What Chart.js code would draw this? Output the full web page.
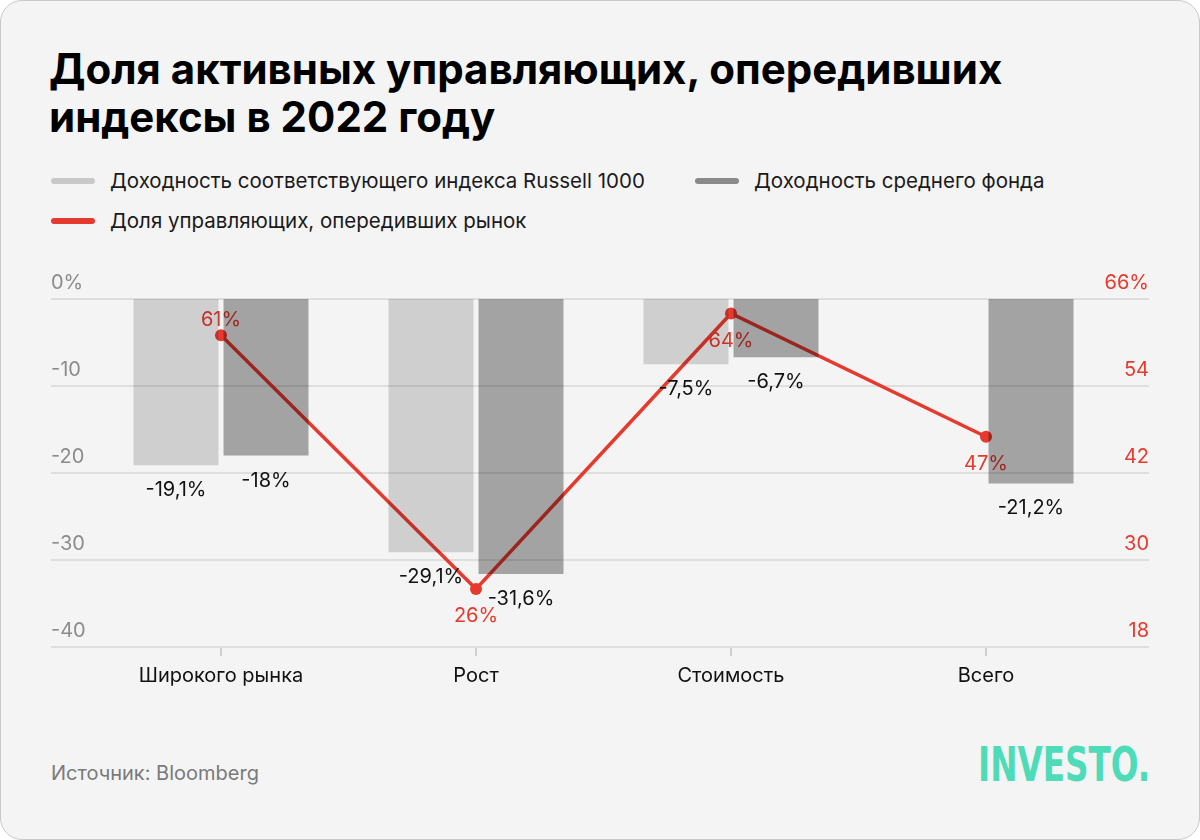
<!DOCTYPE html>
<html>
<head>
<meta charset="utf-8">
<script src="https://cdn.jsdelivr.net/npm/chart.js@4.4.0/dist/chart.umd.min.js"></script>
<style>
  html, body { margin: 0; padding: 0; background: #fff; }
  .card {
    position: absolute; left: 0; top: 0; width: 1200px; height: 840px;
    box-sizing: border-box; background: #f4f4f4; border: 1.5px solid #c9c9c9;
    border-radius: 22px; overflow: hidden; font-family: Inter, sans-serif;
  }
  .title {
    position: absolute; left: 48px; top: 44px; margin: 0;
    font-size: 42px; line-height: 48px; font-weight: 700; color: #000; white-space: nowrap;
  }
  .legend-item { position: absolute; display: flex; align-items: center; font-size: 20.5px; color: #1a1a1a; white-space: nowrap; }
  .legend-item span.sw { display: inline-block; width: 44px; height: 6px; border-radius: 3px; margin-right: 15px; }
  .source { position: absolute; left: 50px; top: 760px; font-size: 20px; color: #7a7a7a; }
  .logo {
    position: absolute; left: 977px; top: 739px; font-family: "DejaVu Sans", sans-serif;
    font-weight: 700; font-size: 48px; line-height: 48px; color: #4edcb8;
    transform: scaleX(0.68); transform-origin: left top; white-space: nowrap;
  }
  canvas { position: absolute; left: 0; top: 0; }
</style>
</head>
<body>
<div class="card">
  <h1 class="title">Доля активных управляющих, опередивших<br>индексы в 2022 году</h1>
  <div class="legend-item" style="left:50px;top:167px"><span class="sw" style="background:#c8c8c8"></span>Доходность соответствующего индекса Russell 1000</div>
  <div class="legend-item" style="left:694px;top:167px"><span class="sw" style="background:#8a8a8a"></span>Доходность среднего фонда</div>
  <div class="legend-item" style="left:50px;top:207px"><span class="sw" style="background:#e63a2f"></span>Доля управляющих, опередивших рынок</div>
  <div class="source">Источник: Bloomberg</div>
  <div class="logo">INVESTO.</div>
  <canvas id="chart" width="1200" height="840"></canvas>
</div>
<script>
const categories = ["Широкого рынка", "Рост", "Стоимость", "Всего"];
const indexReturn = [-19.1, -29.1, -7.5, null];
const fundReturn = [-18, -31.6, -6.7, -21.2];
const beatShare = [61, 26, 64, 47];
const leftTicks = [0, -10, -20, -30, -40];
const leftTickLabels = ["0%", "-10", "-20", "-30", "-40"];
const rightTicks = [66, 54, 42, 30, 18];
const rightTickLabels = ["66%", "54", "42", "30", "18"];
const beatLabelPos = ["top", "bottom", "bottom", "bottom"];

const RED = "#e63a2f";
const FONT = "Inter, sans-serif";

const fmt = v => String(v).replace(".", ",") + "%";

// grid, axis ticks and tick labels, drawn from the scales
const axesPlugin = {
  id: "axesPlugin",
  beforeDatasetsDraw(chart) {
    const ctx = chart.ctx;
    const y = chart.scales.y, y2 = chart.scales.y2, x = chart.scales.x;
    const left = 50, right = 1148;
    ctx.save();
    ctx.strokeStyle = "#dedede";
    ctx.lineWidth = 2;
    leftTicks.forEach(t => {
      const py = Math.round(y.getPixelForValue(t));
      ctx.beginPath(); ctx.moveTo(left, py); ctx.lineTo(right, py); ctx.stroke();
    });
    ctx.strokeStyle = "#cfcfcf";
    categories.forEach((c, i) => {
      const px = Math.round(x.getPixelForValue(i));
      const py = y.getPixelForValue(-40);
      ctx.beginPath(); ctx.moveTo(px, py + 1); ctx.lineTo(px, py + 9); ctx.stroke();
    });
    ctx.font = "20px " + FONT;
    ctx.textBaseline = "alphabetic";
    ctx.fillStyle = "#8c8c8c";
    ctx.textAlign = "left";
    leftTicks.forEach((t, i) => ctx.fillText(leftTickLabels[i], left, y.getPixelForValue(t) - 10));
    ctx.fillStyle = RED;
    ctx.textAlign = "right";
    rightTicks.forEach((t, i) => ctx.fillText(rightTickLabels[i], right, y2.getPixelForValue(t) - 10));
    ctx.fillStyle = "#111";
    ctx.textAlign = "center";
    ctx.textBaseline = "middle";
    categories.forEach((c, i) => ctx.fillText(c, x.getPixelForValue(i), 675));
    ctx.restore();
  },
  afterDatasetDraw(chart, args) {
    if (args.index !== 2) return;
    const ctx = chart.ctx;
    const meta = chart.getDatasetMeta(2);
    ctx.save();
    ctx.font = "20px " + FONT;
    ctx.fillStyle = RED;
    ctx.textAlign = "center";
    ctx.textBaseline = "middle";
    meta.data.forEach((pt, i) => {
      const dy = beatLabelPos[i] === "top" ? -15 : 27;
      ctx.fillText(beatShare[i] + "%", pt.x, pt.y + dy);
    });
    ctx.restore();
  },
  afterDatasetsDraw(chart) {
    const ctx = chart.ctx;
    ctx.save();
    ctx.font = "20px " + FONT;
    ctx.fillStyle = "#111";
    ctx.textAlign = "center";
    ctx.textBaseline = "middle";
    [0, 1].forEach(di => {
      const vals = chart.data.datasets[di].data;
      chart.getDatasetMeta(di).data.forEach((bar, i) => {
        if (vals[i] == null) return;
        ctx.fillText(fmt(vals[i]), bar.x, bar.y + 25);
      });
    });
    ctx.restore();
  }
};

new Chart(document.getElementById("chart").getContext("2d"), {
  type: "bar",
  data: {
    labels: categories,
    datasets: [
      {
        label: "Доходность соответствующего индекса Russell 1000",
        data: indexReturn,
        backgroundColor: "rgba(0, 0, 0, 0.15)",
        yAxisID: "y",
        order: 1,
        categoryPercentage: 0.706,
        barPercentage: 0.944
      },
      {
        label: "Доходность среднего фонда",
        data: fundReturn,
        backgroundColor: "rgba(0, 0, 0, 0.33)",
        yAxisID: "y",
        order: 1,
        categoryPercentage: 0.706,
        barPercentage: 0.944
      },
      {
        type: "line",
        label: "Доля управляющих, опередивших рынок",
        data: beatShare,
        borderColor: RED,
        backgroundColor: RED,
        borderWidth: 3.5,
        pointRadius: 6,
        pointBackgroundColor: RED,
        pointBorderWidth: 0,
        yAxisID: "y2",
        order: 2
      }
    ]
  },
  options: {
    responsive: false,
    animation: false,
    layout: { padding: { left: 92.5, right: 87.5, top: 298, bottom: 194 } },
    plugins: { legend: { display: false }, tooltip: { enabled: false } },
    scales: {
      x: { display: false, offset: true },
      y: { display: false, min: -40, max: 0 },
      y2: { display: false, min: 18, max: 66, position: "right" }
    }
  },
  plugins: [axesPlugin]
});
</script>
</body>
</html>
